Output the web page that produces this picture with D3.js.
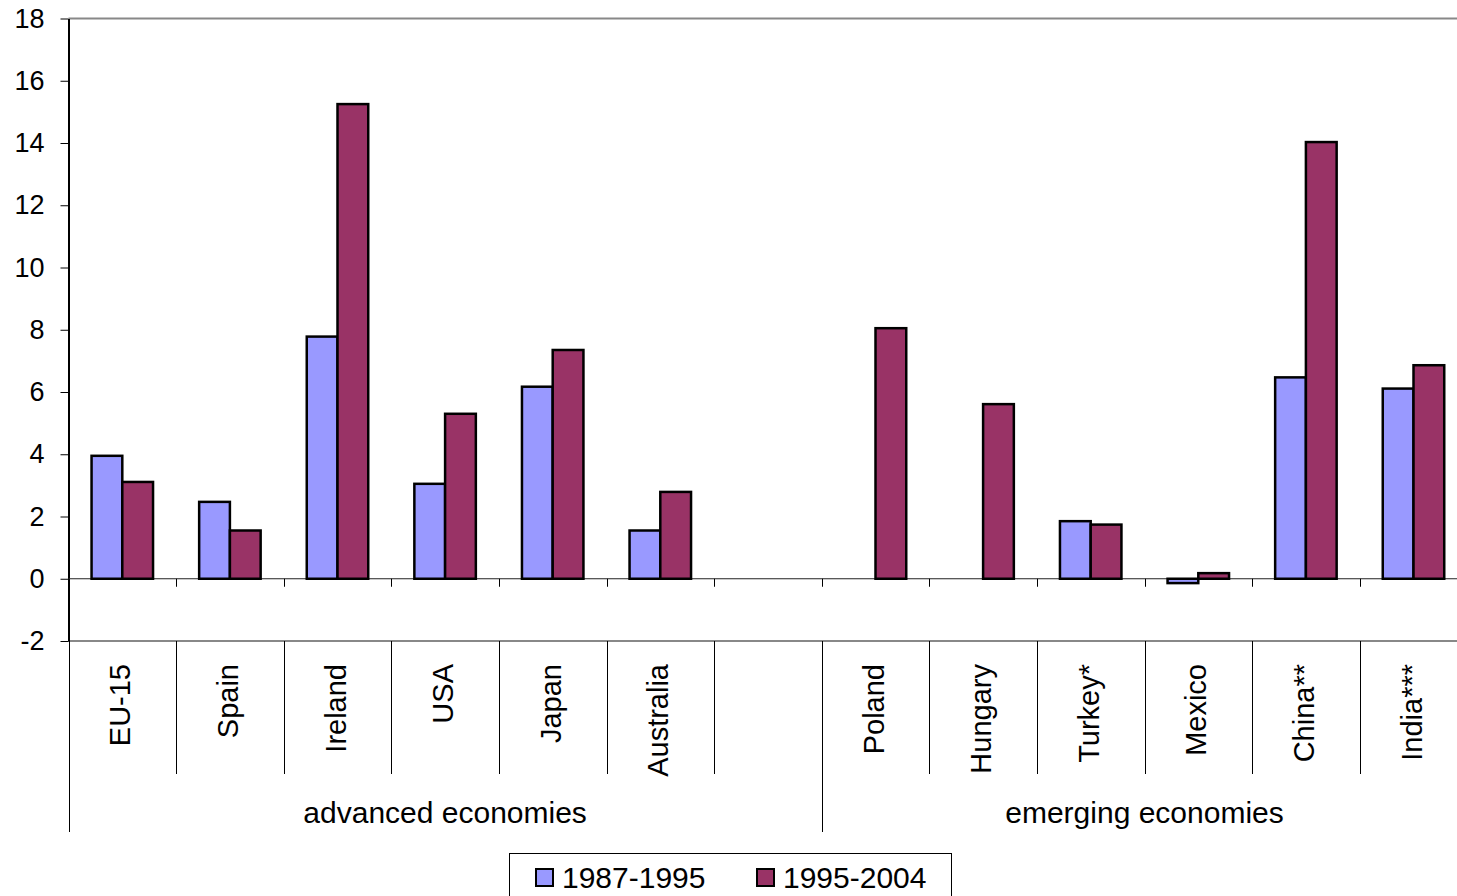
<!DOCTYPE html>
<html>
<head>
<meta charset="utf-8">
<script src="https://cdn.jsdelivr.net/npm/d3@7"></script>
<style>
  body { margin: 0; background: #fff; }
  text { font-family: "Liberation Sans", Arial, sans-serif; fill: #000; }
</style>
</head>
<body>
<svg id="chart" width="1457" height="896"></svg>
<script>
// data
const categories = ['EU-15', 'Spain', 'Ireland', 'USA', 'Japan', 'Australia', '',
  'Poland', 'Hungary', 'Turkey*', 'Mexico', 'China**', 'India***'];
const seriesNames = ['1987-1995', '1995-2004'];
const v8795 = [3.95, 2.47, 7.78, 3.05, 6.17, 1.55, null, null, null, 1.85, -0.14, 6.47, 6.11];
const v9504 = [3.11, 1.55, 15.25, 5.3, 7.35, 2.79, null, 8.05, 5.61, 1.74, 0.18, 14.03, 6.86];
const groups = [
  {name: 'advanced economies', from: 0, to: 7},
  {name: 'emerging economies', from: 7, to: 13}
];
const yTicks = [-2, 0, 2, 4, 6, 8, 10, 12, 14, 16, 18];
const colors = ['#9999ff', '#993366'];

const svg = d3.select('#chart');
const plotL = 68.5, plotR = 68.5 + 13 * 107.6;
const plotT = 18.5, plotB = 641;

const x = d3.scaleBand().domain(d3.range(categories.length)).range([plotL, plotR]);
const y = d3.scaleLinear().domain([-2, 18]).range([plotB, plotT]);
const slot = x.bandwidth();
const bw = slot / 3.5;
const xs = d3.scaleBand().domain(seriesNames).range([(slot - 2 * bw) / 2, (slot + 2 * bw) / 2]);

// plot frame lines
svg.append('line').attr('x1', plotL).attr('x2', plotR).attr('y1', plotT).attr('y2', plotT)
  .attr('stroke', '#888').attr('stroke-width', 2);
svg.append('line').attr('x1', plotL).attr('x2', plotR).attr('y1', plotB).attr('y2', plotB)
  .attr('stroke', '#888').attr('stroke-width', 2);

// y axis
const yAxis = svg.append('g').attr('transform', 'translate(' + plotL + ',0)')
  .call(d3.axisLeft(y).tickValues(yTicks).tickFormat(d => String(d))
    .tickSize(8).tickPadding(16).tickSizeOuter(0));
yAxis.select('.domain').attr('stroke', '#000').attr('stroke-width', 2);
yAxis.selectAll('.tick line').attr('stroke', '#000');
yAxis.selectAll('.tick text').attr('font-size', 27).attr('fill', '#000')
  .attr('font-family', '"Liberation Sans", Arial, sans-serif');

// zero line with category ticks
svg.append('line').attr('x1', plotL).attr('x2', plotR).attr('y1', y(0)).attr('y2', y(0))
  .attr('stroke', '#222').attr('stroke-width', 1);
const bounds = d3.range(1, categories.length + 1).map(i => plotL + i * slot);
svg.selectAll('.ztick').data(bounds).join('line')
  .attr('x1', d => Math.round(d) + 0.5).attr('x2', d => Math.round(d) + 0.5)
  .attr('y1', y(0)).attr('y2', y(0) + 8).attr('stroke', '#000');

// bars
const series = [v8795, v9504];
series.forEach((vals, s) => {
  svg.append('g').selectAll('rect')
    .data(vals.map((v, i) => ({v, i})).filter(d => d.v !== null))
    .join('rect')
    .attr('x', d => x(d.i) + xs(seriesNames[s]))
    .attr('width', xs.bandwidth())
    .attr('y', d => y(Math.max(0, d.v)))
    .attr('height', d => Math.abs(y(d.v) - y(0)))
    .attr('fill', colors[s])
    .attr('stroke', '#000').attr('stroke-width', 2.5);
});

// category labels and separators below the plot
svg.selectAll('.sep').data(bounds).join('line')
  .attr('x1', d => Math.round(d) + 0.5).attr('x2', d => Math.round(d) + 0.5)
  .attr('y1', plotB).attr('y2', 774).attr('stroke', '#000');
svg.selectAll('.cat').data(categories).join('text')
  .attr('transform', (d, i) => 'translate(' + (x(i) + slot / 2 - 2) + ',664) rotate(-90)')
  .attr('text-anchor', 'end').attr('dy', '0.35em')
  .attr('font-size', 29)
  .text(d => d);

// group labels
groups.forEach(g => {
  const gx = plotL + g.from * slot;
  svg.append('line').attr('x1', Math.round(gx) + 0.5).attr('x2', Math.round(gx) + 0.5)
    .attr('y1', plotB).attr('y2', 832).attr('stroke', '#000');
  svg.append('text').attr('x', plotL + (g.from + g.to) / 2 * slot).attr('y', 823)
    .attr('text-anchor', 'middle').attr('font-size', 30).text(g.name);
});

// legend
const legend = svg.append('g');
legend.append('rect').attr('x', 509.5).attr('y', 853.5).attr('width', 442).attr('height', 60)
  .attr('fill', '#fff').attr('stroke', '#000');
const lx = [536, 757];
seriesNames.forEach((n, s) => {
  legend.append('rect').attr('x', lx[s]).attr('y', 869).attr('width', 17).attr('height', 17)
    .attr('fill', colors[s]).attr('stroke', '#000').attr('stroke-width', 2);
  legend.append('text').attr('x', lx[s] + 26).attr('y', 888).attr('font-size', 30).text(n);
});
</script>
</body>
</html>
